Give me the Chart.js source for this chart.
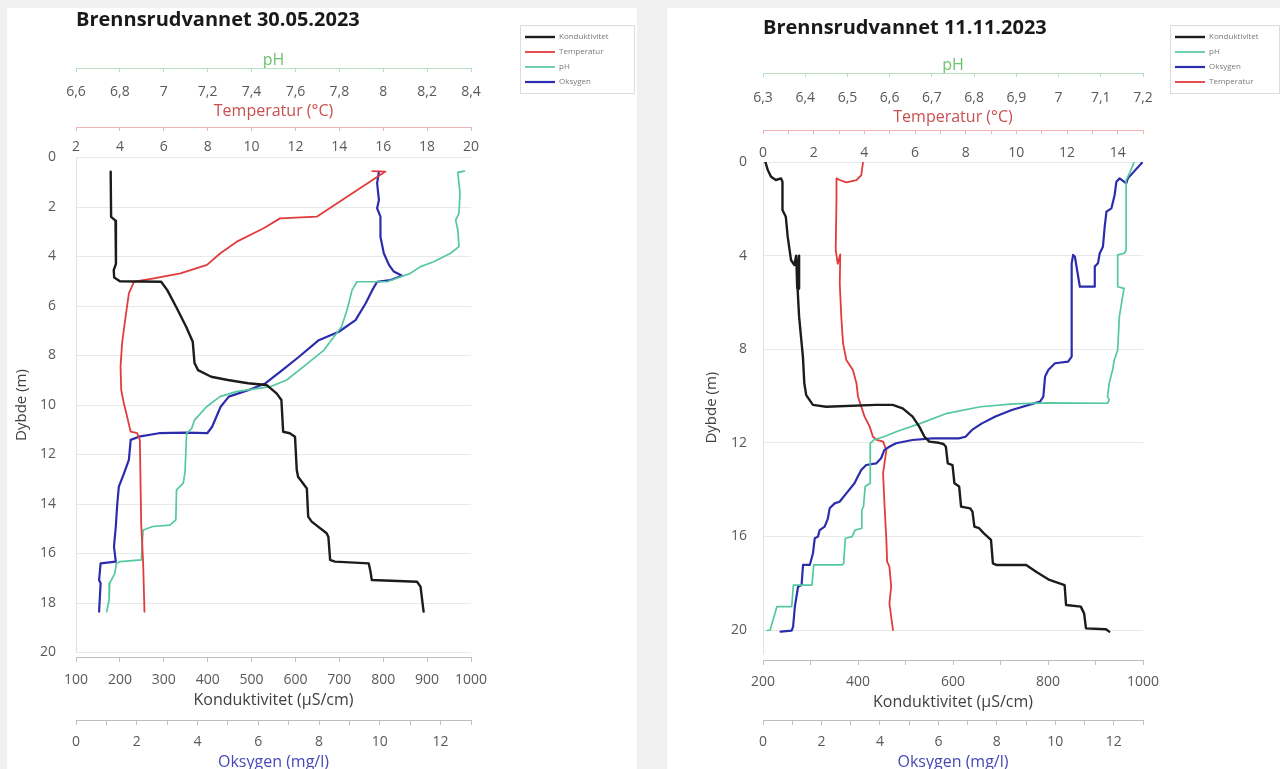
<!DOCTYPE html>
<html>
<head>
<meta charset="utf-8">
<script src="https://cdn.jsdelivr.net/npm/chart.js@4.4.1/dist/chart.umd.min.js"></script>
<style>
html,body{margin:0;padding:0;background:#f0f0f0;width:1280px;height:769px;overflow:hidden;}
.panel{position:absolute;background:#ffffff;}
#pA{left:7px;top:8px;width:630px;height:761px;}
#pB{left:667px;top:8px;width:613px;height:761px;}
canvas{display:block;}
</style>
</head>
<body>
<div class="panel" id="pA"><canvas id="cA" width="630" height="761"></canvas></div>
<div class="panel" id="pB"><canvas id="cB" width="613" height="761"></canvas></div>
<script>
// ---------- 30.05.2023 ----------
const titleA = 'Brennsrudvannet 30.05.2023';
const dybdeKondA = [0.57,2.4,2.55,4.3,4.55,4.85,5.0,5.02,5.36,6.03,6.84,7.44,8.3,8.59,8.86,8.99,9.12,9.19,9.53,9.8,11.08,11.14,11.28,12.63,12.9,13.37,14.51,14.71,15.18,15.32,16.26,16.33,16.4,16.73,17.07,17.14,17.34,18.35];
const kondA = [179,180,190,191,186,187,200,294,308,328,351,366,370,378,408,446,492,534,557,568,572,587,599,603,606,626,629,637,671,675,679,690,767,771,774,877,885,892];
const dybdeTempA = [0.55,0.57,2.39,2.46,2.86,3.4,3.87,4.34,4.68,4.88,5.02,5.49,6.43,7.5,8.45,9.39,9.93,10.47,11.08,11.14,11.41,14.78,16.4,18.35];
const tempA = [15.5,16.1,12.97,11.3,10.55,9.33,8.58,7.97,6.76,5.55,4.64,4.41,4.26,4.1,4.03,4.06,4.18,4.33,4.49,4.79,4.91,4.97,5.06,5.12];
const dybdePhA = [0.55,0.6,1.45,2.26,2.53,2.93,3.6,3.87,4.21,4.41,4.68,4.88,5.02,5.02,5.36,6.16,6.84,7.3,7.78,8.45,8.99,9.26,9.46,9.66,10.07,10.61,10.95,11.14,12.69,13.16,13.43,14.64,14.85,14.91,15.05,15.45,16.26,16.33,16.4,16.8,17.2,17.88,18.35];
const phA = [8.37,8.34,8.35,8.345,8.33,8.34,8.345,8.307,8.23,8.17,8.124,8.06,8.018,7.88,7.858,7.835,7.81,7.77,7.73,7.637,7.56,7.485,7.33,7.256,7.195,7.14,7.127,7.104,7.097,7.089,7.058,7.055,7.028,6.95,6.906,6.903,6.898,6.8,6.784,6.777,6.754,6.751,6.74];
const dybdeOksA = [0.57,1.04,1.72,2.05,2.39,3.2,3.87,4.34,4.61,4.78,4.95,5.02,5.36,5.9,6.57,7.04,7.38,8.05,8.59,9.12,9.39,9.66,10.07,10.88,11.14,11.12,11.14,11.28,11.41,12.22,12.76,13.3,13.97,14.91,15.72,16.33,16.4,17.07,17.2,18.35];
const oksA = [9.97,9.91,9.97,9.91,10.02,10.02,10.13,10.3,10.46,10.73,10.35,9.91,9.75,9.53,9.2,8.65,7.99,7.34,6.79,6.24,5.69,5.03,4.76,4.48,4.32,3.6,2.73,2.07,1.8,1.74,1.58,1.41,1.36,1.31,1.25,1.31,0.81,0.76,0.81,0.76];
const phTicksA = [6.6,6.8,7,7.2,7.4,7.6,7.8,8,8.2,8.4];
const tempTicksA = [2,4,6,8,10,12,14,16,18,20];
const kondTicksA = [100,200,300,400,500,600,700,800,900,1000];
const oksTicksA = [0,1,2,3,4,5,6,7,8,9,10,11,12,13];
const oksLabelsA = [0,2,4,6,8,10,12];
const dybdeTicksA = [0,2,4,6,8,10,12,14,16,18,20];

// ---------- 11.11.2023 ----------
const titleB = 'Brennsrudvannet 11.11.2023';
const dybdeKondB = [0,0.34,0.63,0.77,0.7,0.84,2.05,2.34,3.19,4.19,4.4,4.0,5.4,4.0,5.4,5.47,6.61,7.46,8.32,9.46,9.96,10.38,10.46,10.38,10.38,10.53,10.88,11.31,11.74,11.95,12.0,12.05,12.17,12.88,12.95,13.73,13.87,14.73,14.8,14.94,15.58,15.65,15.87,16.15,17.15,17.22,17.22,17.51,17.86,18.08,18.93,19.0,19.29,19.93,19.97,20.07];
const kondB = [205,210,217,227,238,241,241,248,252,259,266,270,272,276,276,273,276,280,284,287,291,305,333,438,473,494,515,529,540,550,570,580,585,589,599,603,613,617,636,641,645,655,665,680,684,691,754,775,803,835,838,869,876,880,922,929];
const dybdePhB = [0,0.4,0.77,3.76,3.9,3.97,5.33,5.4,6.61,8.03,8.46,8.89,9.17,9.46,10.03,10.17,10.31,10.29,10.34,10.46,10.74,11.17,11.52,11.74,11.88,12.02,13.73,13.87,14.73,14.87,15.65,15.73,16.01,16.08,17.15,17.22,17.22,18.08,18.08,19.0,19.0,20.0,20.02];
const phB = [7.179,7.17,7.16,7.16,7.156,7.14,7.14,7.155,7.144,7.14,7.132,7.128,7.124,7.12,7.116,7.12,7.116,6.974,6.894,6.815,6.736,6.673,6.617,6.586,6.562,6.554,6.554,6.542,6.538,6.534,6.534,6.518,6.511,6.495,6.491,6.487,6.42,6.416,6.372,6.368,6.333,6.317,6.31];
const dybdeOksB = [0,0.7,0.91,0.7,0.84,1.41,1.98,2.12,2.76,3.62,3.9,4.33,4.47,5.33,5.33,4.05,3.97,4.33,8.32,8.53,8.6,8.89,9.17,10.03,10.24,10.6,10.88,11.17,11.45,11.74,11.81,11.81,11.88,12.02,12.17,12.31,12.66,12.88,12.95,13.16,13.45,13.73,14.16,14.52,14.59,14.8,15.23,15.58,15.73,16.01,16.08,16.72,17.22,17.22,18.08,18.15,19.0,19.86,20.03,20.07];
const oksB = [12.99,12.48,12.43,12.2,12.09,12.03,11.92,11.75,11.69,11.63,11.52,11.46,11.35,11.35,10.84,10.67,10.61,10.56,10.56,10.44,9.99,9.76,9.65,9.59,9.48,8.51,7.95,7.49,7.15,6.93,6.7,5.79,5.11,4.55,4.32,4.15,4.04,3.87,3.53,3.36,3.24,3.13,2.85,2.62,2.45,2.28,2.22,2.11,1.94,1.88,1.77,1.71,1.6,1.37,1.32,1.2,1.09,1.03,0.98,0.6];
const dybdeTempB = [0,0.56,0.77,0.87,0.77,0.7,1.62,3.76,4.35,3.95,5.18,6.61,7.75,8.46,8.89,9.46,10.03,10.46,10.88,11.31,11.74,11.88,11.95,12.24,12.31,13.3,14.73,16.15,17.08,17.29,18.15,18.86,20.0];
const tempB = [3.95,3.88,3.69,3.29,3.03,2.9,2.9,2.87,2.95,3.05,3.03,3.09,3.16,3.29,3.55,3.69,3.75,3.88,4.01,4.21,4.34,4.5,4.74,4.84,4.87,4.74,4.8,4.87,4.9,4.99,5.06,4.99,5.13];
const phTicksB = [6.3,6.4,6.5,6.6,6.7,6.8,6.9,7,7.1,7.2];
const tempTicksB = [0,1,2,3,4,5,6,7,8,9,10,11,12,13,14,15];
const tempLabelsB = [0,2,4,6,8,10,12,14];
const kondTicksB = [200,300,400,500,600,700,800,900,1000];
const kondLabelsB = [200,400,600,800,1000];
const oksTicksB = [0,1,2,3,4,5,6,7,8,9,10,11,12,13];
const oksLabelsB = [0,2,4,6,8,10,12];
const dybdeTicksB = [0,4,8,12,16,20];

// ---------- styling ----------
Chart.defaults.font.family = "'Open Sans', 'DejaVu Sans', sans-serif";
Chart.defaults.color = '#595959';
const COL = {kond:'#1c1c1c', temp:'#e23b3b', ph:'#54c8a0', oks:'#2c2cae'};
const AX = {phLine:'#b9dfc5', phTitle:'#6cc36c', tLine:'#efb3b3', tTitle:'#c9504f', base:'#bfbfbf', kTitle:'#404040', oTitle:'#4848b8', tick:'#595959'};
const TICK_FONT = 14, AXTITLE_FONT = 16;

function fmt(v){ return String(Math.round(v*10)/10).replace('.', ','); }
function labeler(labels){ return v => labels.some(l => Math.abs(l - v) < 1e-6) ? fmt(v) : ''; }
function pts(xs, ds){ return xs.map((x, i) => ({x: x, y: ds[i]})); }
function setTicks(values){ return s => { s.ticks = values.map(v => ({value: v})); }; }

function topAxis(o){
  return {
    type:'linear', position:'top', weight:o.weight,
    min:o.ticks[0], max:o.ticks[o.ticks.length-1],
    afterBuildTicks:setTicks(o.ticks), afterFit:s => { s.height = o.h; },
    grid:{display:true, drawOnChartArea:false, drawTicks:true, tickLength:-4, tickColor:o.line, tickWidth:1},
    border:{display:true, color:o.line, width:1},
    ticks:{mirror:true, padding:o.pad, color:AX.tick, font:{size:TICK_FONT}, autoSkip:false, maxRotation:0, minRotation:0, callback:labeler(o.labels)},
    title:{display:true, text:o.title, color:o.titleColor, font:{size:AXTITLE_FONT}, padding:{top:o.titlePad, bottom:0}}
  };
}
function bottomAxis(o){
  return {
    type:'linear', position:'bottom', weight:o.weight,
    min:o.ticks[0], max:o.ticks[o.ticks.length-1],
    afterBuildTicks:setTicks(o.ticks), afterFit:s => { s.height = o.h; },
    grid:{display:true, drawOnChartArea:false, drawTicks:true, tickLength:5, tickColor:AX.base, tickWidth:1},
    border:{display:true, color:AX.base, width:1},
    ticks:{padding:o.pad, color:AX.tick, font:{size:TICK_FONT}, autoSkip:false, maxRotation:0, minRotation:0, callback:labeler(o.labels)},
    title:{display:true, text:o.title, color:o.titleColor, font:{size:AXTITLE_FONT}, padding:{top:0, bottom:o.titlePadB}}
  };
}
function spacer(pos, weight, size){
  const horiz = (pos === 'top' || pos === 'bottom');
  return {
    type:'linear', position:pos, weight:weight, display:true, min:0, max:1,
    grid:{display:false, drawTicks:false}, border:{display:false}, ticks:{display:false}, title:{display:false},
    afterFit:s => { if (horiz) s.height = size; else s.width = size; }
  };
}
function yAxis(o){
  return {
    type:'linear', position:'left', reverse:true, min:0, max:o.max,
    afterBuildTicks:setTicks(o.ticks), afterFit:s => { s.width = o.w; },
    grid:{color:'#e8e8e8', lineWidth:1, drawTicks:false},
    border:{display:true, color:'#e2e2e2', width:1},
    ticks:{padding:o.pad, color:AX.tick, font:{size:TICK_FONT}, autoSkip:false, callback:v => fmt(v)},
    title:{display:true, text:'Dybde (m)', color:'#404040', font:{size:15}, padding:{top:o.titlePad, bottom:0}}
  };
}

const legendWidthPlugin = {
  id:'legendWidth',
  afterInit(chart, args, opts){
    const lg = chart.legend;
    if (!lg) return;
    const fit = lg.fit.bind(lg);
    lg.fit = function(){ fit(); this.width = opts.w; };
  }
};
const legendFramePlugin = {
  id:'legendFrame',
  afterDraw(chart, args, o){
    const lg = chart.legend;
    if (!lg) return;
    const ctx = chart.ctx;
    ctx.save();
    ctx.strokeStyle = '#dcdcdc';
    ctx.lineWidth = 1;
    ctx.strokeRect(Math.round(lg.left + o.l) + 0.5, o.t + 0.5, Math.round(lg.width - o.l - o.r - 1), o.h);
    ctx.restore();
  }
};

function dataset(label, xs, ds, axis, color, w){
  return {label:label, data:pts(xs, ds), xAxisID:axis, yAxisID:'y', borderColor:color, backgroundColor:color,
    borderWidth:w, showLine:true, pointRadius:0, pointHoverRadius:0, tension:0,
    borderJoinStyle:'round', borderCapStyle:'round'};
}

function buildChart(id, P){
  return new Chart(document.getElementById(id), {
    type:'scatter',
    data:{datasets:P.datasets},
    options:{
      responsive:false, animation:false, events:[],
      layout:{padding:0},
      plugins:{
        title:{display:true, text:P.title, align:'start', fullSize:false, color:'#1a1a1a',
          font:{size:20, weight:'bold', lineHeight:1.2}, padding:{top:P.titlePad, bottom:0}},
        legend:{display:true, position:'right', align:'start',
          title:{display:true, text:'', font:{size:8, lineHeight:1}, padding:{top:10, bottom:0}},
          labels:{usePointStyle:true, pointStyle:'line', pointStyleWidth:30, font:{size:8}, color:'#7a7a7a', padding:7}},
        tooltip:{enabled:false},
        legendWidth:{w:P.legendW},
        legendFrame:{l:2, r:P.frameR, t:17, h:68}
      },
      scales:P.scales
    },
    plugins:[legendWidthPlugin, legendFramePlugin]
  });
}

buildChart('cA', {
  title:titleA, titlePad:0, legendW:119, frameR:2,
  datasets:[
    dataset('Konduktivitet', kondA, dybdeKondA, 'xK', COL.kond, 2.4),
    dataset('Temperatur', tempA, dybdeTempA, 'xT', COL.temp, 1.8),
    dataset('pH', phA, dybdePhA, 'xP', COL.ph, 1.7),
    dataset('Oksygen', oksA, dybdeOksA, 'xO', COL.oks, 2.2)
  ],
  scales:{
    xP: topAxis({weight:2, ticks:phTicksA, labels:phTicksA, h:36, pad:15.6, titlePad:18.4, title:'pH', titleColor:AX.phTitle, line:AX.phLine}),
    xT: topAxis({weight:1, ticks:tempTicksA, labels:tempTicksA, h:59, pad:11.6, titlePad:33.4, title:'Temperatur (°C)', titleColor:AX.tTitle, line:AX.tLine}),
    xS1: spacer('top', 0, 30.5),
    xK: bottomAxis({weight:1, ticks:kondTicksA, labels:kondTicksA, h:63, pad:9.6, titlePadB:10.4, title:'Konduktivitet (µS/cm)', titleColor:AX.kTitle}),
    xO: bottomAxis({weight:2, ticks:oksTicksA, labels:oksLabelsA, h:49, pad:8.6, titlePadB:-2.6, title:'Oksygen (mg/l)', titleColor:AX.oTitle}),
    xS2: spacer('bottom', 0, 4.5),
    y: yAxis({ticks:dybdeTicksA, max:20, w:69, pad:20, titlePad:6}),
    yS: spacer('right', 0, 47)
  }
});

buildChart('cB', {
  title:titleB, titlePad:8, legendW:112, frameR:0,
  datasets:[
    dataset('Konduktivitet', kondB, dybdeKondB, 'xK', COL.kond, 2.4),
    dataset('pH', phB, dybdePhB, 'xP', COL.ph, 1.7),
    dataset('Oksygen', oksB, dybdeOksB, 'xO', COL.oks, 2.2),
    dataset('Temperatur', tempB, dybdeTempB, 'xT', COL.temp, 1.8)
  ],
  scales:{
    xP: topAxis({weight:2, ticks:phTicksB, labels:phTicksB, h:33, pad:16.6, titlePad:15.4, title:'pH', titleColor:AX.phTitle, line:AX.phLine}),
    xT: topAxis({weight:1, ticks:tempTicksB, labels:tempLabelsB, h:57, pad:14.6, titlePad:34.4, title:'Temperatur (°C)', titleColor:AX.tTitle, line:AX.tLine}),
    xS1: spacer('top', 0, 32),
    xK: bottomAxis({weight:1, ticks:kondTicksB, labels:kondLabelsB, h:60, pad:8.6, titlePadB:8.4, title:'Konduktivitet (µS/cm)', titleColor:AX.kTitle}),
    xO: bottomAxis({weight:2, ticks:oksTicksB, labels:oksLabelsB, h:49, pad:8.6, titlePadB:-2.6, title:'Oksygen (mg/l)', titleColor:AX.oTitle}),
    xS2: spacer('bottom', 0, 6.6),
    y: yAxis({ticks:dybdeTicksB, max:21, w:96, pad:16, titlePad:36}),
    yS: spacer('right', 0, 25)
  }
});
</script>
</body>
</html>
